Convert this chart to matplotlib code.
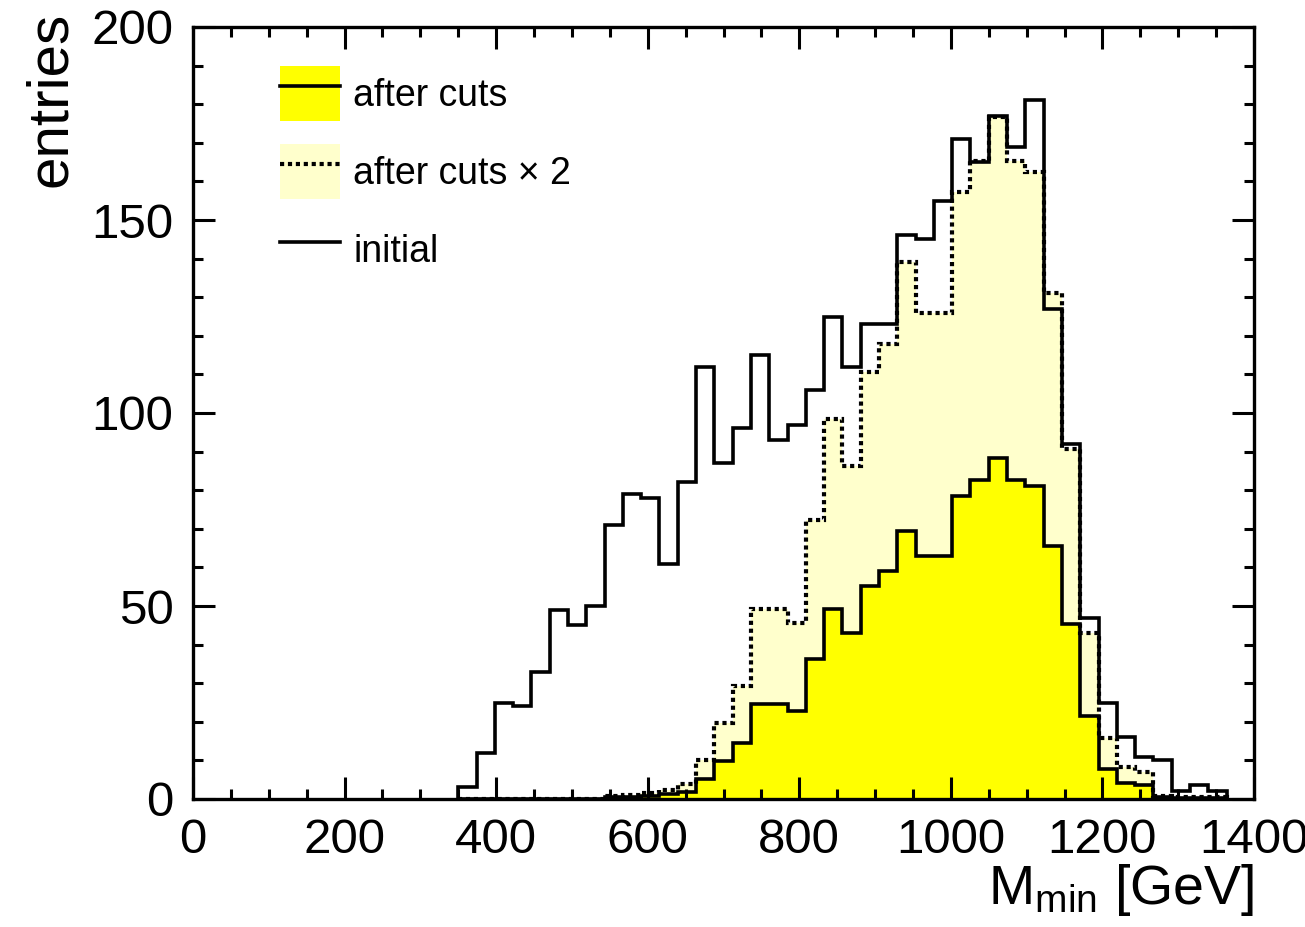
import numpy as np
import matplotlib
matplotlib.use("Agg")
from matplotlib import pyplot as plt
from matplotlib.patches import Patch
from matplotlib.lines import Line2D
from matplotlib.ticker import MultipleLocator

plt.rcParams['font.family'] = ['Liberation Sans', 'DejaVu Sans']
plt.rcParams['mathtext.default'] = 'regular'

# binning: 58 bins over 0-1400 GeV, filled ones start at 350 GeV
bin_width = 1400 / 58
first_edge = 350.0
n_bins = 42

# entries per bin
initial = [3, 12, 25, 24, 33, 49, 45, 50, 71, 79, 78, 61, 82, 112, 87, 96,
           115, 93, 97, 106, 125, 112, 123, 123, 146, 145, 155, 171, 165, 177,
           169, 181, 127, 92, 47, 25, 16, 11, 10, 2, 3.5, 2]
after_cuts = [0, 0, 0, 0, 0, 0, 0, 0, 0.4, 0.5, 0.8, 1.2, 1.9, 5.1, 9.9, 14.6,
              24.6, 24.6, 22.8, 36.2, 49.2, 43.1, 55.3, 59.0, 69.5, 63.0, 63.0,
              78.6, 82.7, 88.4, 82.7, 81.2, 65.6, 45.3, 21.5, 7.9, 4.2, 3.5,
              0.4, 0.3, 0.3, 0.2]
scale = 2

labels = ['after cuts', 'after cuts \u00d7 2', 'initial']

edges = first_edge + bin_width * np.arange(n_bins + 1)
initial = np.array(initial)
after_cuts = np.array(after_cuts)
after_scaled = scale * after_cuts

yellow = '#ffff00'
light_yellow = '#ffffcc'
lw = 2.6
dot_lw = 3.0
dotted = (0, (1.0, 0.9))

fig = plt.figure(figsize=(13.05, 9.27), dpi=100)
ax = fig.add_axes([193 / 1305, 1 - 799 / 927, (1254 - 193) / 1305, (799 - 27) / 927])

ax.stairs(after_scaled, edges, fill=True, color=light_yellow, lw=0)
ax.stairs(after_cuts, edges, fill=True, color=yellow, lw=0)
ax.stairs(after_scaled, edges, color='k', lw=dot_lw, ls=dotted)
ax.stairs(after_cuts, edges, color='k', lw=lw)
ax.stairs(initial, edges, color='k', lw=lw)

ax.set_xlim(0, 1400)
ax.set_ylim(0, 200)
ax.xaxis.set_major_locator(MultipleLocator(200))
ax.xaxis.set_minor_locator(MultipleLocator(50))
ax.yaxis.set_major_locator(MultipleLocator(50))
ax.yaxis.set_minor_locator(MultipleLocator(10))
ax.tick_params(which='both', direction='in', top=True, right=True, width=2.2)
ax.tick_params(which='major', length=16, labelsize=35.5, pad=14)
ax.tick_params(which='minor', length=7.5)
for s in ax.spines.values():
    s.set_linewidth(2.4)

ax.set_xlabel(r'M$_{min}$ [GeV]', fontsize=40, loc='right')
ax.xaxis.set_label_coords(1.0, -0.082)
ax.set_ylabel('entries', fontsize=42, loc='top')
ax.yaxis.set_label_coords(-0.108, 1.02)

h1 = (Patch(facecolor=yellow, edgecolor='none'), Line2D([], [], color='k', lw=lw))
h2 = (Patch(facecolor=light_yellow, edgecolor='none'), Line2D([], [], color='k', lw=dot_lw, ls=dotted))
h3 = Line2D([], [], color='k', lw=lw)
ax.legend([h1, h2, h3], labels, loc='upper left', bbox_to_anchor=(0.082, 0.9495),
          frameon=False, fontsize=27, handlelength=1.6, handleheight=1.9,
          handletextpad=0.35, labelspacing=0.6, borderpad=0, borderaxespad=0)

fig.savefig('out.png', dpi=100)
